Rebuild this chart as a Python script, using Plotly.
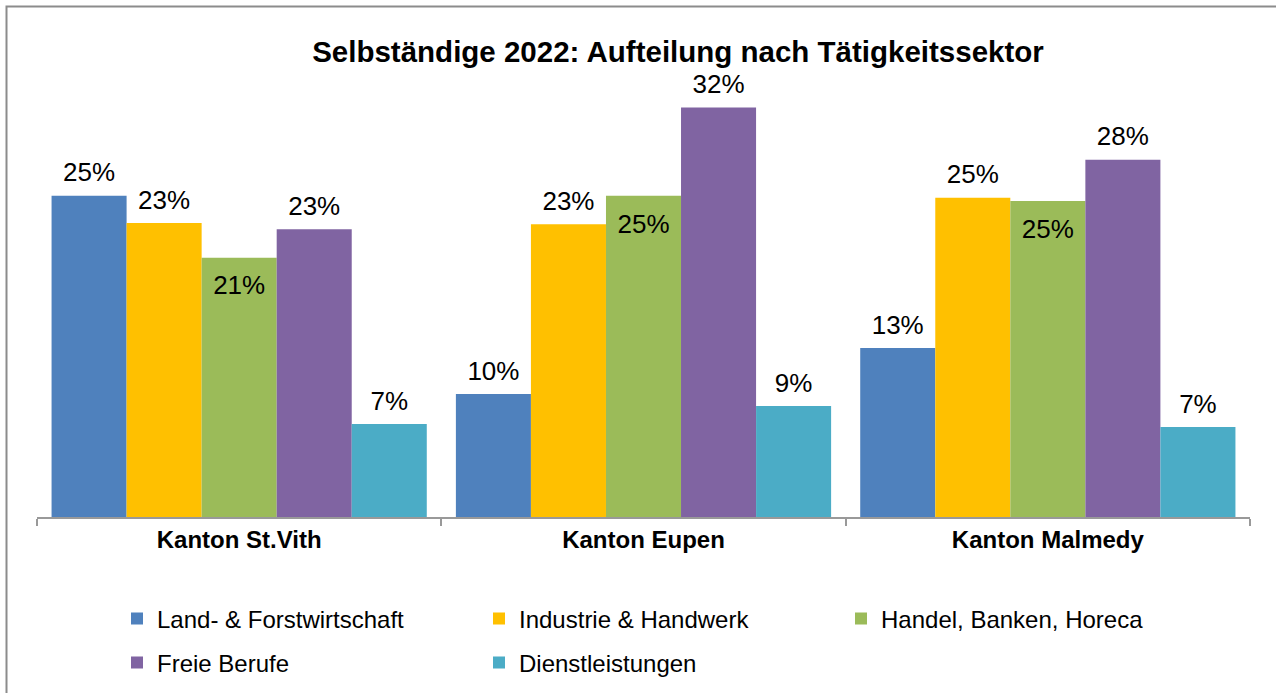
import plotly.graph_objects as go

categories = ["Kanton St.Vith", "Kanton Eupen", "Kanton Malmedy"]
series_names = ["Land- & Forstwirtschaft", "Industrie & Handwerk", "Handel, Banken, Horeca",
                "Freie Berufe", "Dienstleistungen"]
land = [0.2545, 0.0975, 0.134]
industrie = [0.233, 0.232, 0.253]
handel = [0.2055, 0.2545, 0.2505]
freie = [0.228, 0.3245, 0.283]
dienst = [0.0737, 0.088, 0.0713]
values = [land, industrie, handel, freie, dienst]
colors = ["#4F81BD", "#FFC000", "#9BBB59", "#8064A2", "#4BACC6"]
label_inside = [False, False, True, False, False]

W, H = 1276, 693
ml, mr, mt, mb = 37, 26, 69, 176
pw, ph = W - ml - mr, H - mt - mb
FONT = "Liberation Sans, Arial, sans-serif"

fig = go.Figure()
for i, (name, vals, col) in enumerate(zip(series_names, values, colors)):
    fig.add_trace(go.Bar(
        x=categories, y=vals, name=name, marker=dict(color=col, line=dict(width=0)),
        offsetgroup=str(i), legend="legend" if i < 3 else "legend2",
        hovertemplate="%{x}<br>" + name + ": %{y:.0%}<extra></extra>",
    ))
for i, (name, vals) in enumerate(zip(series_names, values)):
    inside = label_inside[i]
    fig.add_trace(go.Scatter(
        x=categories, y=vals, mode="markers+text", showlegend=False,
        offsetgroup=str(i),
        text=[f"{int(v * 100 + 0.5):d}%" for v in vals],
        textposition="bottom center" if inside else "top center",
        textfont=dict(family=FONT, size=26, color="#000000"),
        marker=dict(size=26 if inside else 11, color="rgba(0,0,0,0)"), hoverinfo="skip",
    ))

legend_common = dict(orientation="h", xref="container", yref="container",
                     x=117 / W, xanchor="left", yanchor="middle",
                     entrywidth=317, entrywidthmode="pixels",
                     font=dict(family=FONT, size=24, color="#000000"),
                     bgcolor="rgba(0,0,0,0)")

fig.update_layout(
    width=W, height=H,
    margin=dict(l=ml, r=mr, t=mt, b=mb),
    paper_bgcolor="white", plot_bgcolor="white",
    barmode="group", bargap=0.072, bargroupgap=0,
    scattermode="group", scattergap=0.072,
    title=dict(text="<b>Selbständige 2022: Aufteilung nach Tätigkeitssektor</b>",
               xref="container", yref="container",
               x=678 / W, xanchor="center", y=1 - 52 / H, yanchor="middle",
               font=dict(family=FONT, size=29.5, color="#000000")),
    font=dict(family=FONT, color="#000000"),
    xaxis=dict(showline=True, linecolor="#999999", linewidth=2, ticks="outside",
               tickson="boundaries", ticklen=7, tickcolor="#999999", tickwidth=2,
               tickfont=dict(family=FONT, size=24, color="#000000"),
               tickvals=categories, ticktext=[f"<b>{c}</b>" for c in categories],
               showgrid=False, zeroline=False),
    yaxis=dict(range=[0, 0.355], visible=False, showgrid=False, zeroline=False),
    legend=dict(legend_common, y=1 - 619 / H),
    legend2=dict(legend_common, y=1 - 663 / H),
    shapes=[dict(type="rect", xref="paper", yref="paper",
                 x0=(6.5 - ml) / pw, x1=(W + 10 - ml) / pw,
                 y0=-(H + 10 - mt - ph) / ph, y1=(mt + ph - 6.5) / ph,
                 line=dict(color="#8C8C8C", width=2), layer="below")],
)

fig.write_html("out.html", config={"displayModeBar": False},
               post_script="document.body.style.margin='0';")
